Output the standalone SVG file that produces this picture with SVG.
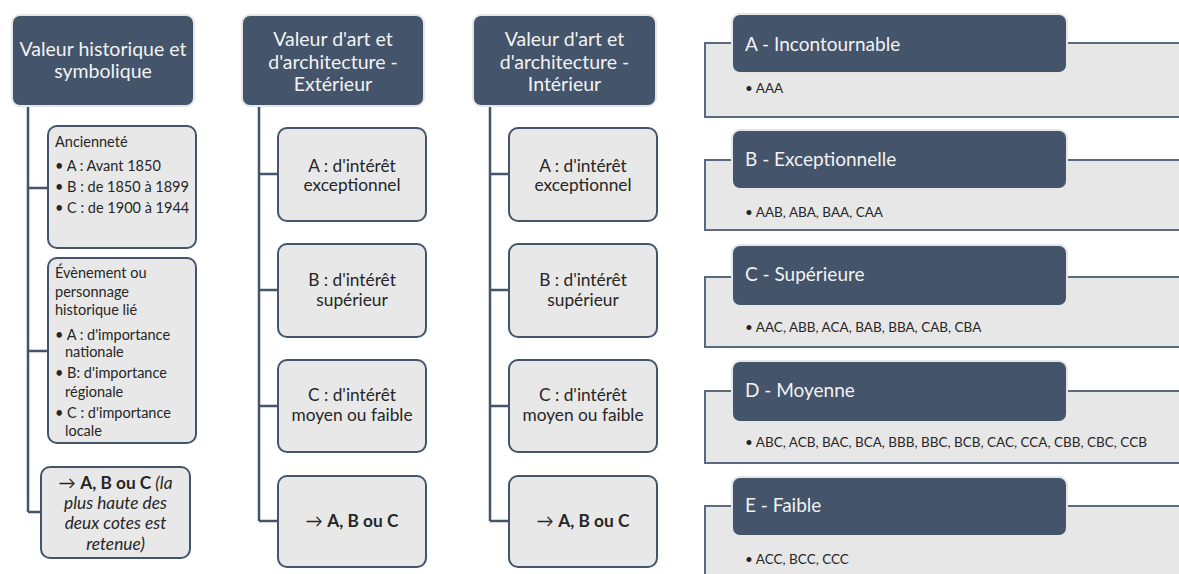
<svg xmlns="http://www.w3.org/2000/svg" width="1179" height="574" viewBox="0 0 1179 574">
<style>
.hd{fill:#44546A;stroke:#E6E6E6;stroke-width:2}
.bx{fill:#E8E8E8;stroke:#44546A;stroke-width:2}
.ob{fill:#E8E7E7;stroke:#5A6A7E;stroke-width:2}
.ht{font-family:Lato,"Liberation Sans",sans-serif;font-size:19px;fill:#F2F2F2}
.htc{font-family:Lato,"Liberation Sans",sans-serif;font-size:19.5px;fill:#F2F2F2;text-anchor:middle}
.bt{font-family:Lato,"Liberation Sans",sans-serif;font-size:17.3px;fill:#262626;text-anchor:middle}
.st{font-family:Lato,"Liberation Sans",sans-serif;font-size:14.5px;fill:#262626}
.rt{font-family:Lato,"Liberation Sans",sans-serif;font-size:13.5px;fill:#262626}
.cn{fill:none;stroke:#44546A;stroke-width:2.5}
</style>
<rect width="1179" height="574" fill="#FFFFFF"/>
<g id="connectors">
<path class="cn" d="M28,106 V512 M28,188 H48 M28,351 H48 M28,512 H41"/>
<path class="cn" d="M259,106 V521 M259,174 H278 M259,290 H278 M259,406 H278 M259,521 H278"/>
<path class="cn" d="M490,106 V521 M490,174 H509 M490,290 H509 M490,406 H509 M490,521 H509"/>
</g>
<g id="h1"><rect class="hd" x="12" y="15" width="182" height="91" rx="8"/>
<text class="htc" x="103" y="56">Valeur historique et</text><text class="htc" x="103" y="78">symbolique</text></g>
<g id="h2"><rect class="hd" x="242" y="15" width="182" height="91" rx="8"/>
<text class="htc" x="333" y="46">Valeur d'art et</text><text class="htc" x="333" y="69">d'architecture -</text><text class="htc" x="333" y="91">Extérieur</text></g>
<g id="h3"><rect class="hd" x="473" y="15" width="183" height="91" rx="8"/>
<text class="htc" x="564.5" y="46">Valeur d'art et</text><text class="htc" x="564.5" y="69">d'architecture -</text><text class="htc" x="564.5" y="91">Intérieur</text></g>

<g id="c1a"><rect class="bx" x="48" y="126" width="148" height="122" rx="9"/>
<text class="st" x="55" y="147">Ancienneté</text>
<text class="st" x="55" y="171">• A : Avant 1850</text>
<text class="st" x="55" y="192">• B : de 1850 à 1899</text>
<text class="st" x="55" y="213">• C : de 1900 à 1944</text></g>
<g id="c1b"><rect class="bx" x="48" y="258" width="148" height="185" rx="9"/>
<text class="st" x="55" y="278">Évènement ou</text>
<text class="st" x="55" y="297">personnage</text>
<text class="st" x="55" y="315">historique lié</text>
<text class="st" x="55" y="340">• A : d'importance</text>
<text class="st" x="65" y="357">nationale</text>
<text class="st" x="55" y="378">• B: d'importance</text>
<text class="st" x="65" y="397">régionale</text>
<text class="st" x="55" y="418">• C : d'importance</text>
<text class="st" x="65" y="436">locale</text></g>
<g id="c1c"><rect class="bx" x="41" y="467" width="149" height="91" rx="9"/>
<text class="bt" x="115.5" y="489"><tspan>→ </tspan><tspan font-weight="bold">A, B ou C</tspan><tspan font-style="italic"> (la</tspan></text>
<text class="bt" x="115.5" y="509" font-style="italic">plus haute des</text>
<text class="bt" x="115.5" y="529" font-style="italic">deux cotes est</text>
<text class="bt" x="115.5" y="550" font-style="italic">retenue)</text></g>

<g id="c2a"><rect class="bx" x="278" y="128" width="148" height="93" rx="9"/>
<text class="bt" x="352" y="172">A : d'intérêt</text><text class="bt" x="352" y="191">exceptionnel</text></g>
<g id="c2b"><rect class="bx" x="278" y="244" width="148" height="93" rx="9"/>
<text class="bt" x="352" y="286">B : d'intérêt</text><text class="bt" x="352" y="306">supérieur</text></g>
<g id="c2c"><rect class="bx" x="278" y="360" width="148" height="92" rx="9"/>
<text class="bt" x="352" y="401">C : d'intérêt</text><text class="bt" x="352" y="421">moyen ou faible</text></g>
<g id="c2d"><rect class="bx" x="278" y="476" width="148" height="91" rx="9"/>
<text class="bt" x="352" y="527"><tspan>→ </tspan><tspan font-weight="bold">A, B ou C</tspan></text></g>

<g id="c3a"><rect class="bx" x="509" y="128" width="148" height="93" rx="9"/>
<text class="bt" x="583" y="172">A : d'intérêt</text><text class="bt" x="583" y="191">exceptionnel</text></g>
<g id="c3b"><rect class="bx" x="509" y="244" width="148" height="93" rx="9"/>
<text class="bt" x="583" y="286">B : d'intérêt</text><text class="bt" x="583" y="306">supérieur</text></g>
<g id="c3c"><rect class="bx" x="509" y="360" width="148" height="92" rx="9"/>
<text class="bt" x="583" y="401">C : d'intérêt</text><text class="bt" x="583" y="421">moyen ou faible</text></g>
<g id="c3d"><rect class="bx" x="509" y="476" width="148" height="91" rx="9"/>
<text class="bt" x="583" y="527"><tspan>→ </tspan><tspan font-weight="bold">A, B ou C</tspan></text></g>

<g id="rA"><rect class="ob" x="705" y="43" width="500" height="74"/>
<rect class="hd" x="732" y="14" width="335" height="59" rx="8"/>
<text class="ht" x="745" y="51">A - Incontournable</text>
<text class="rt" x="745" y="93">• AAA</text></g>
<g id="rB"><rect class="ob" x="705" y="160" width="500" height="70"/>
<rect class="hd" x="732" y="130" width="335" height="59" rx="8"/>
<text class="ht" x="745" y="166">B - Exceptionnelle</text>
<text class="rt" x="745" y="217">• AAB, ABA, BAA, CAA</text></g>
<g id="rC"><rect class="ob" x="705" y="277" width="500" height="70"/>
<rect class="hd" x="732" y="245" width="335" height="61" rx="8"/>
<text class="ht" x="745" y="281">C - Supérieure</text>
<text class="rt" x="745" y="332">• AAC, ABB, ACA, BAB, BBA, CAB, CBA</text></g>
<g id="rD"><rect class="ob" x="705" y="391" width="500" height="72"/>
<rect class="hd" x="732" y="361" width="335" height="61" rx="8"/>
<text class="ht" x="745" y="397">D - Moyenne</text>
<text class="rt" x="745" y="447">• ABC, ACB, BAC, BCA, BBB, BBC, BCB, CAC, CCA, CBB, CBC, CCB</text></g>
<g id="rE"><rect class="ob" x="705" y="506" width="500" height="80"/>
<rect class="hd" x="732" y="477" width="335" height="59" rx="8"/>
<text class="ht" x="745" y="512">E - Faible</text>
<text class="rt" x="745" y="564">• ACC, BCC, CCC</text></g>
</svg>
